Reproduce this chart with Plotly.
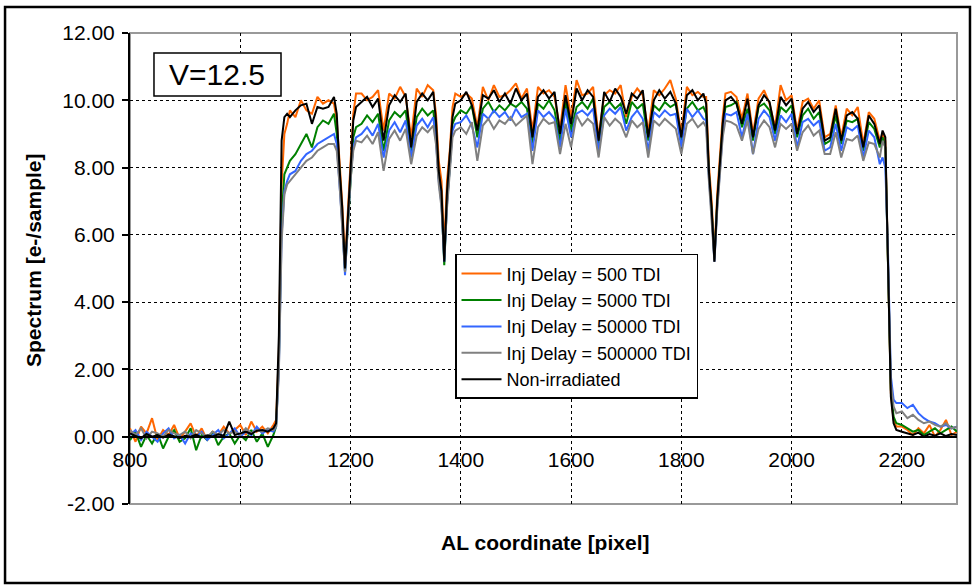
import plotly.graph_objects as go

# ---------------- data ----------------
al_pixel = [
    800, 810, 820, 830, 840, 850, 860, 870, 880, 890, 900, 910, 920, 930, 940, 950, 960, 970, 980, 990,
    1000, 1010, 1020, 1030, 1040, 1050, 1060,
    1065, 1070, 1075, 1080, 1085, 1090,
    1100, 1110, 1120, 1130, 1140, 1150, 1160, 1170,
    1175, 1180, 1185, 1190, 1195, 1200, 1205, 1210,
    1220, 1230, 1240, 1250, 1260, 1270, 1280, 1290, 1300, 1310, 1320, 1330, 1340, 1350,
    1355, 1360, 1365, 1370, 1375, 1380, 1385, 1390,
    1400, 1410, 1420, 1430, 1440, 1450, 1460, 1470, 1480, 1490, 1500, 1510, 1520, 1530, 1540,
    1550, 1560, 1570, 1580, 1590, 1600, 1610, 1620, 1630, 1640, 1650, 1660, 1670, 1680, 1690,
    1700, 1710, 1720, 1730, 1740, 1750, 1760, 1770, 1780, 1790, 1800, 1810, 1820, 1830, 1840,
    1845, 1850, 1855, 1860, 1865, 1870, 1875, 1880,
    1890, 1900, 1910, 1920, 1930, 1940, 1950, 1960, 1970, 1980, 1990, 2000, 2010, 2020, 2030,
    2040, 2050, 2060, 2070, 2080, 2090, 2100, 2110, 2120, 2130, 2140, 2150, 2160,
    2165, 2170, 2175, 2180, 2185, 2190,
    2200, 2210, 2220, 2230, 2240, 2250, 2260, 2270, 2280, 2290, 2300,
]

delay_500 = [
    0.25, -0.15, 0.30, 0.10, 0.55, -0.10, 0.20, 0.05, 0.35, -0.05, 0.15, 0.40, 0.00, 0.25, -0.10, 0.15, 0.05, 0.30, 0.10, 0.20,
    0.35, 0.05, 0.45, 0.15, 0.30, 0.10, 0.35,
    0.5, 2.5, 7.5, 9.0, 9.3, 9.7,
    9.5, 10.0, 9.7, 9.6, 10.1, 9.9, 10.0, 9.9,
    9.4, 8.2, 6.9, 5.2, 6.8, 8.0, 9.6, 10.2,
    10.2, 10.0, 10.1, 10.3, 9.1, 10.2, 10.05, 10.4, 10.1, 8.9, 10.35, 10.1, 10.45, 10.3,
    9.6, 8.2, 7.6, 5.6, 7.6, 8.5, 9.8, 10.2,
    10.1, 10.2, 10.05, 9.2, 10.4, 10.0, 10.45, 10.1, 10.15, 10.3, 10.5, 10.05, 10.35, 9.1, 10.4,
    10.2, 10.3, 10.1, 9.15, 10.45, 9.5, 10.6, 10.15, 10.2, 10.4, 8.9, 10.15, 10.3, 10.2, 10.45,
    9.5, 10.1, 10.35, 10.15, 9.05, 10.3, 10.15, 10.35, 10.6, 10.05, 9.0, 10.4, 10.15, 10.25, 10.1,
    10.1, 8.1, 7.0, 5.4, 7.2, 8.3, 9.5, 10.2,
    10.25, 10.1, 9.45, 10.2, 9.0, 10.05, 10.3, 9.9, 9.2, 10.45, 10.0, 10.15, 9.1, 9.95, 10.05,
    9.75, 10.0, 8.9, 9.0, 9.85, 8.9, 9.75, 9.55, 9.8, 8.7, 9.65, 9.45, 8.8,
    9.0, 8.8, 5.5, 1.3, 0.5, 0.3,
    0.30, 0.20, 0.05, 0.25, 0.10, 0.35, 0.00, 0.20, 0.50, 0.05, 0.15,
]

delay_5000 = [
    -0.10, 0.15, -0.30, 0.05, -0.20, 0.10, -0.35, 0.00, 0.20, -0.15, -0.05, 0.25, -0.40, 0.05, -0.10, 0.15, -0.25, 0.00, 0.10, -0.20,
    0.05, -0.10, 0.20, -0.15, 0.10, -0.30, 0.05,
    0.3, 2.2, 6.5, 7.8, 8.0, 8.2,
    8.4, 8.7, 9.0, 8.6, 9.2, 9.4, 9.3, 9.6,
    9.0, 7.9, 6.5, 4.9, 6.2, 7.6, 8.9, 9.2,
    9.3, 9.55, 9.35, 9.6, 8.5, 9.4, 9.65, 9.5, 9.7, 8.4, 9.5, 9.75, 9.55, 9.7,
    9.0, 7.7, 7.0, 5.1, 7.0, 8.0, 9.3, 9.5,
    9.7, 9.6, 9.85, 8.9, 9.75, 9.95, 9.65, 9.85, 9.7, 9.9, 9.8, 9.95, 9.75, 8.7, 9.9,
    9.75, 10.0, 9.7, 8.8, 9.95, 9.1, 9.8, 9.95, 9.75, 10.05, 8.6, 9.8, 9.95, 9.75, 9.9,
    9.3, 9.95, 9.75, 9.9, 8.8, 9.85, 9.7, 9.95, 9.8, 9.9, 8.8, 9.75, 9.95, 9.7, 9.8,
    9.6, 7.8, 6.7, 5.3, 6.9, 8.0, 9.2, 9.8,
    9.85, 9.95, 9.2, 9.75, 8.8, 9.8, 9.9, 9.7, 9.0, 9.8, 9.65, 9.85, 8.9, 9.55, 9.75,
    9.45, 9.65, 8.7, 8.8, 9.55, 8.7, 9.4, 9.35, 9.45, 8.5, 9.35, 9.15, 8.6,
    8.9, 8.6, 5.3, 1.4, 0.6, 0.4,
    0.35, 0.25, 0.15, 0.20, 0.05, 0.15, 0.25, 0.10, 0.20, 0.30, 0.15,
]

delay_50000 = [
    0.05, 0.20, -0.10, 0.15, 0.00, -0.15, 0.10, 0.25, -0.05, 0.05, -0.20, 0.10, 0.00, 0.15, -0.10, 0.05, 0.20, -0.05, 0.10, 0.25,
    0.00, 0.15, 0.05, 0.30, 0.10, 0.20, 0.15,
    0.3, 2.0, 6.0, 7.3, 7.6, 7.8,
    7.9, 8.2, 8.4, 8.5, 8.7, 8.8, 8.9, 9.0,
    8.7, 7.6, 6.3, 4.8, 6.3, 7.7, 8.6, 8.9,
    9.0, 9.2, 8.95, 9.3, 8.3, 9.1, 9.35, 9.05, 9.4, 8.3, 9.25, 9.45, 9.2, 9.5,
    8.8, 7.6, 6.9, 5.2, 6.9, 7.9, 9.1, 9.3,
    9.35, 9.55, 9.25, 8.6, 9.6, 9.45, 9.7, 9.5, 9.65, 9.4, 9.75, 9.5, 9.6, 8.5, 9.7,
    9.5, 9.65, 9.45, 8.6, 9.75, 8.9, 9.6, 9.7, 9.55, 9.75, 8.5, 9.55, 9.75, 9.6, 9.8,
    9.1, 9.5, 9.7, 9.45, 8.5, 9.65, 9.5, 9.7, 9.55, 9.6, 8.6, 9.75, 9.5, 9.7, 9.45,
    9.4, 7.7, 6.6, 5.2, 6.8, 7.9, 9.0, 9.6,
    9.55, 9.65, 8.9, 9.6, 8.4, 9.45, 9.7, 9.5, 8.8, 9.55, 9.35, 9.6, 8.6, 9.35, 9.45,
    9.25, 9.4, 8.5, 8.6, 9.3, 8.5, 9.2, 9.1, 9.25, 8.3, 9.1, 8.9, 8.1,
    8.3, 8.0, 5.4, 1.8, 1.1, 1.0,
    1.00, 0.85, 0.95, 0.70, 0.55, 0.45, 0.40, 0.30, 0.35, 0.25, 0.30,
]

delay_500000 = [
    0.20, 0.05, 0.25, -0.05, 0.15, 0.10, 0.00, 0.20, 0.10, 0.05, 0.15, -0.05, 0.20, 0.10, 0.00, 0.15, 0.05, 0.20, 0.10, 0.15,
    0.05, 0.25, 0.10, 0.20, 0.15, 0.25, 0.20,
    0.3, 1.9, 5.8, 7.2, 7.5, 7.6,
    7.8, 8.0, 8.2, 8.3, 8.5, 8.6, 8.7, 8.7,
    8.5, 7.5, 6.3, 4.9, 6.3, 7.6, 8.5, 8.8,
    8.75, 8.95, 8.7, 9.05, 7.9, 8.85, 9.1, 8.8, 9.15, 8.1, 8.95, 9.2, 9.05, 9.25,
    8.7, 7.5, 6.8, 5.3, 6.8, 7.8, 8.9, 9.1,
    9.2, 9.0, 9.35, 8.2, 9.25, 9.45, 9.15, 9.4, 9.3, 9.5, 9.25, 9.4, 9.55, 8.1, 9.2,
    9.45, 9.3, 9.35, 8.4, 9.3, 8.6, 9.55, 9.25, 9.45, 9.3, 8.3, 9.5, 9.25, 9.45, 9.3,
    8.9, 9.4, 9.2, 9.35, 8.3, 9.4, 9.25, 9.45, 9.3, 9.15, 8.4, 9.3, 9.45, 9.2, 9.35,
    9.2, 7.6, 6.5, 5.2, 6.7, 7.8, 8.9, 9.4,
    9.35, 9.25, 8.8, 9.4, 8.4, 9.15, 9.4, 9.2, 8.6, 9.3, 9.15, 9.3, 8.5, 9.05, 9.25,
    8.95, 9.1, 8.4, 8.4, 9.05, 8.3, 8.85, 8.8, 8.95, 8.2, 8.75, 8.7, 8.3,
    8.8, 8.6, 5.4, 1.6, 0.9, 0.7,
    0.75, 0.55, 0.65, 0.50, 0.40, 0.45, 0.35, 0.30, 0.40, 0.25, 0.30,
]

non_irradiated = [
    0.10, 0.02, -0.05, 0.08, 0.00, 0.05, -0.03, 0.06, 0.02, -0.04, 0.03, 0.00, 0.06, -0.02, 0.04, 0.01, 0.07, 0.03, 0.45, 0.05,
    0.10, 0.15, 0.08, 0.18, 0.20, 0.15, 0.25,
    0.4, 3.0, 8.8, 9.5, 9.6, 9.5,
    9.7, 9.85, 9.9, 9.3, 9.8, 9.75, 9.8, 10.1,
    9.6, 8.0, 6.8, 5.0, 6.5, 8.3, 9.4, 9.8,
    9.95, 10.1, 9.8, 10.05, 8.8, 9.85, 10.15, 9.95, 10.2, 8.6, 9.95, 10.2, 10.0, 10.25,
    9.4, 7.9, 7.3, 5.2, 7.3, 8.3, 9.5, 9.9,
    10.0, 10.25, 9.85, 9.1, 10.15, 10.05, 10.3, 9.95, 10.2, 9.9, 10.35, 10.0, 10.2, 8.9, 10.1,
    10.3, 10.05, 10.25, 9.0, 10.15, 9.3, 10.35, 10.0, 10.3, 10.1, 8.8, 10.25, 9.95, 10.35, 10.1,
    9.6, 10.2, 10.05, 10.3, 8.9, 10.0, 10.3, 10.05, 10.25, 9.9, 8.9, 10.15, 10.3, 10.0, 10.2,
    9.9, 7.9, 6.8, 5.2, 7.0, 8.1, 9.3, 10.0,
    10.1, 9.9, 9.3, 10.05, 8.9, 9.85, 10.15, 9.95, 9.1, 10.1, 9.85, 10.05, 9.0, 9.75, 9.95,
    9.65, 9.85, 8.8, 8.9, 9.75, 8.8, 9.55, 9.65, 9.45, 8.6, 9.55, 9.3, 8.7,
    9.1, 8.9, 5.0, 1.2, 0.4, 0.2,
    0.15, 0.10, 0.05, 0.12, 0.00, 0.08, 0.03, 0.10, 0.02, 0.08, 0.05,
]

series_names = ["Inj Delay = 500 TDI", "Inj Delay = 5000 TDI", "Inj Delay = 50000 TDI",
                "Inj Delay = 500000 TDI", "Non-irradiated"]
series_values = [delay_500, delay_5000, delay_50000, delay_500000, non_irradiated]
series_colors = ["#FF6600", "#008000", "#3366FF", "#808080", "#000000"]

x_ticks = [800, 1000, 1200, 1400, 1600, 1800, 2000, 2200]
y_ticks = [-2, 0, 2, 4, 6, 8, 10, 12]
y_tick_text = ["-2.00", "0.00", "2.00", "4.00", "6.00", "8.00", "10.00", "12.00"]

# ---------------- figure ----------------
fig = go.Figure()
for name, vals, col in zip(series_names, series_values, series_colors):
    fig.add_trace(go.Scatter(x=al_pixel, y=vals, mode="lines", name=name,
                             line=dict(color=col, width=2)))

font_family = "Arial, Liberation Sans, sans-serif"

fig.update_layout(
    width=973, height=585,
    margin=dict(l=130, r=16, t=33, b=81),
    plot_bgcolor="white", paper_bgcolor="white",
    font=dict(family=font_family, color="black"),
    showlegend=True,
    legend=dict(x=0.393, y=0.531, xanchor="left", yanchor="top",
                bgcolor="white", bordercolor="black", borderwidth=1.5,
                font=dict(size=18, color="black", family=font_family),
                itemwidth=40),
    xaxis=dict(range=[800, 2300], tickvals=x_ticks, ticktext=[str(v) for v in x_ticks],
               showgrid=True, gridcolor="black", griddash="dot", gridwidth=1,
               zeroline=False, showline=True, linecolor="black", linewidth=2,
               anchor="free", position=2 / 14, ticks="", ticklabelstandoff=4,
               tickfont=dict(size=21, color="black")),
    yaxis=dict(range=[-2, 12], tickvals=y_ticks, ticktext=y_tick_text,
               showgrid=True, gridcolor="black", griddash="dot", gridwidth=1,
               zeroline=False, showline=True, linecolor="black", linewidth=2,
               ticks="outside", ticklen=6, tickwidth=2, tickcolor="black",
               ticklabelstandoff=3, tickfont=dict(size=21, color="black")),
    shapes=[
        # grey plot-area border (top, right, bottom)
        dict(type="rect", xref="paper", yref="paper", x0=0, x1=1, y0=0, y1=1,
             line=dict(color="#999999", width=2), layer="between"),
        # outer frame
        dict(type="rect", xref="paper", yref="paper", x0=-0.1511, x1=1.0157, y0=-0.1677, y1=1.0552,
             line=dict(color="black", width=2.5), layer="above"),
        # V=12.5 box
        dict(type="rect", xref="paper", yref="paper", x0=0.029, x1=0.1826, y0=0.8662, y1=0.9575,
             line=dict(color="black", width=1.5), fillcolor="white", layer="above"),
    ],
    annotations=[
        dict(text="V=12.5", xref="paper", yref="paper", x=0.1058, y=0.912,
             showarrow=False, font=dict(size=30, color="black", family=font_family),
             xanchor="center", yanchor="middle"),
        dict(text="<b>Spectrum [e-/sample]</b>", xref="paper", yref="paper", x=-0.1173, y=0.518,
             showarrow=False, textangle=-90, font=dict(size=21, color="black", family=font_family),
             xanchor="center", yanchor="middle"),
        dict(text="<b>AL coordinate [pixel]</b>", xref="paper", yref="paper", x=0.5018, y=-0.0828,
             showarrow=False, font=dict(size=21, color="black", family=font_family),
             xanchor="center", yanchor="middle"),
    ],
)

fig.write_html("out.html")
